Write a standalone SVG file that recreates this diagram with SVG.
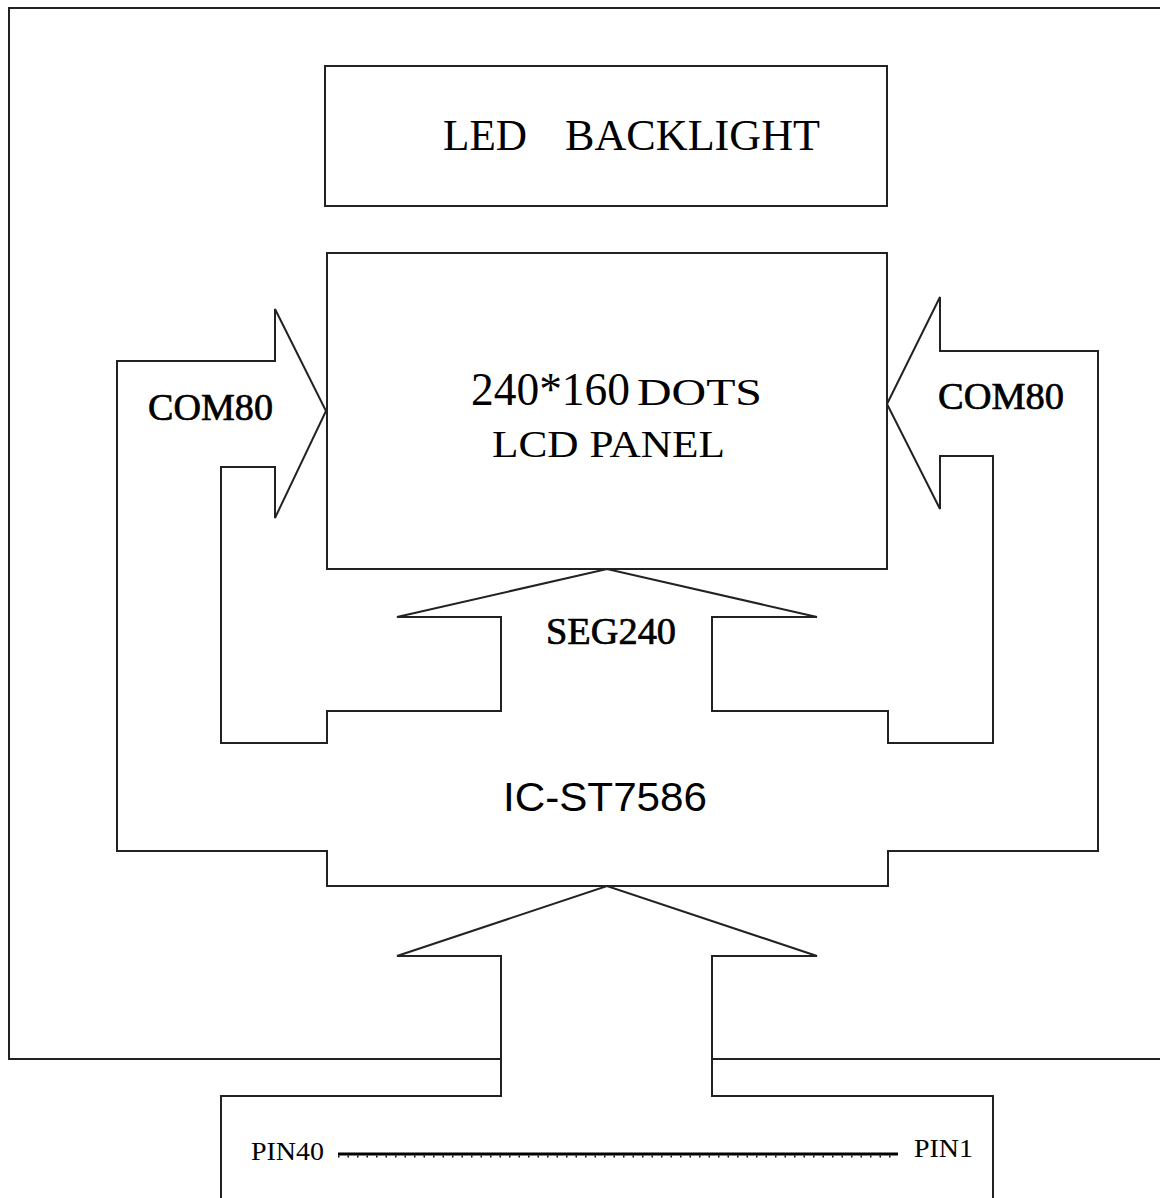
<svg xmlns="http://www.w3.org/2000/svg" width="1160" height="1198" viewBox="0 0 1160 1198">
  <style>
    .ln { fill: none; stroke: #222; stroke-width: 2; stroke-linejoin: miter; }
    .serif { font-family: "Liberation Serif", "Times New Roman", serif; fill: #000; }
    .sans { font-family: "Liberation Sans", Arial, sans-serif; fill: #000; }
    .heavy { stroke: #000; stroke-width: 0.7; }
  </style>
  <rect width="1160" height="1198" fill="#fff"/>

  <g id="frame">
    <path class="ln" d="M1162,8 H9 V1059 H501"/>
    <path class="ln" d="M712,1059 H1162"/>
  </g>

  <g id="led-backlight">
    <rect class="ln" x="325" y="66" width="562" height="140"/>
    <text class="serif" x="443" y="150" font-size="45" textLength="84" lengthAdjust="spacingAndGlyphs">LED</text>
    <text class="serif" x="565" y="150" font-size="45" textLength="255" lengthAdjust="spacingAndGlyphs">BACKLIGHT</text>
  </g>

  <g id="lcd-panel">
    <rect class="ln" x="327" y="253" width="560" height="316"/>
    <text class="serif" x="471" y="405" font-size="47" textLength="159" lengthAdjust="spacingAndGlyphs">240*160</text>
    <text class="serif" x="637" y="405" font-size="38" textLength="125" lengthAdjust="spacingAndGlyphs">DOTS</text>
    <text class="serif" x="492" y="457" font-size="37" textLength="233" lengthAdjust="spacingAndGlyphs">LCD PANEL</text>
  </g>

  <g id="ic-st7586">
    <path class="ln" d="M117,361 H275 V309 L326,411 L275,518 V467 H221 V743 H327 V711 H501 V617 H397 L607,569 L817,617 H712 V711 H888 V743 H993 V456 H940 V509 L887,404 L940,297 V351 H1098 V851 H888 V886 H327 V851 H117 Z"/>
    <text class="sans" x="503" y="811" font-size="41" textLength="204" lengthAdjust="spacingAndGlyphs">IC-ST7586</text>
  </g>

  <g id="connectors">
    <g id="com80-left">
      <text class="serif heavy" x="148" y="420" font-size="38" textLength="125" lengthAdjust="spacingAndGlyphs">COM80</text>
    </g>
    <g id="com80-right">
      <text class="serif heavy" x="938" y="409" font-size="38" textLength="126" lengthAdjust="spacingAndGlyphs">COM80</text>
    </g>
    <g id="seg240">
      <text class="serif heavy" x="546" y="644" font-size="38" textLength="130" lengthAdjust="spacingAndGlyphs">SEG240</text>
    </g>
    <g id="bus">
      <path class="ln" d="M221,1200 V1096 H501 V956 H397 L607,886 L817,956 H712 V1096 H993 V1200"/>
    </g>
  </g>

  <g id="fpc">
    <text class="serif" x="251" y="1160" font-size="26" textLength="73" lengthAdjust="spacingAndGlyphs">PIN40</text>
    <line x1="338" y1="1154" x2="898" y2="1154" stroke="#000" stroke-width="3"/>
    <line x1="338" y1="1156.5" x2="898" y2="1156.5" stroke="#111" stroke-width="2" stroke-dasharray="1.5 8"/>
    <text class="serif" x="914" y="1157" font-size="26" textLength="59" lengthAdjust="spacingAndGlyphs">PIN1</text>
  </g>
</svg>
